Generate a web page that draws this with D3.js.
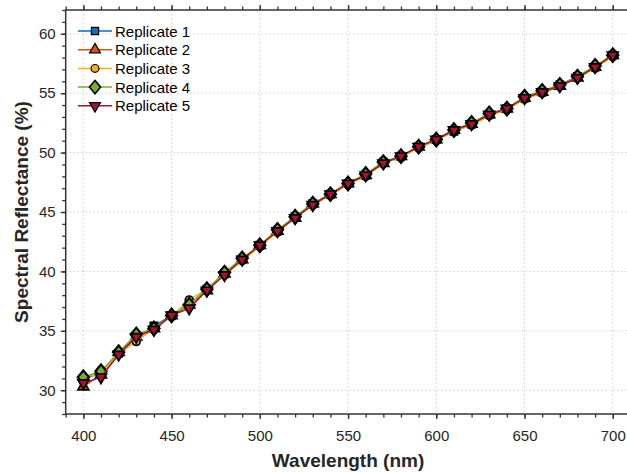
<!DOCTYPE html>
<html>
<head>
<meta charset="utf-8">
<script src="https://cdn.jsdelivr.net/npm/d3@7"></script>
<style>
  body { margin: 0; background: #fff; }
  svg { font-family: "Liberation Sans", Arial, Helvetica, sans-serif; }
</style>
</head>
<body>
<script>
// wavelength (nm) and the five replicate spectra (%)
var wavelengths = [400, 410, 420, 430, 440, 450, 460, 470, 480, 490, 500, 510, 520, 530, 540, 550,
                   560, 570, 580, 590, 600, 610, 620, 630, 640, 650, 660, 670, 680, 690, 700];
var rep1 = [31.0, 31.4, 33.1, 34.4, 35.4, 36.3, 37.2, 38.5, 39.8, 41.0, 42.2, 43.4, 44.6, 45.7, 46.5, 47.4,
            48.1, 49.2, 49.7, 50.5, 51.1, 51.8, 52.4, 53.2, 53.7, 54.6, 55.1, 55.7, 56.4, 57.2, 58.2];
var rep2 = [30.3, 31.3, 33.2, 34.5, 35.2, 36.3, 37.2, 38.4, 39.8, 41.0, 42.2, 43.4, 44.5, 45.7, 46.5, 47.4,
            48.1, 49.1, 49.7, 50.5, 51.1, 51.9, 52.4, 53.2, 53.7, 54.6, 55.1, 55.6, 56.3, 57.2, 58.2];
var rep3 = [31.1, 31.4, 33.1, 34.1, 35.2, 36.2, 37.6, 38.5, 39.7, 40.9, 42.1, 43.3, 44.5, 45.6, 46.4, 47.3,
            48.0, 49.1, 49.6, 50.4, 51.0, 51.8, 52.3, 53.1, 53.6, 54.5, 55.0, 55.6, 56.3, 57.1, 58.1];
var rep4 = [31.1, 31.6, 33.2, 34.7, 35.2, 36.3, 37.2, 38.5, 39.9, 41.1, 42.2, 43.5, 44.6, 45.7, 46.5, 47.4,
            48.2, 49.2, 49.7, 50.5, 51.1, 51.9, 52.5, 53.3, 53.7, 54.7, 55.2, 55.7, 56.4, 57.3, 58.2];
var rep5 = [30.6, 31.1, 33.0, 34.5, 35.1, 36.3, 36.9, 38.4, 39.7, 41.0, 42.2, 43.4, 44.5, 45.6, 46.5, 47.4,
            48.1, 49.1, 49.7, 50.5, 51.1, 51.9, 52.4, 53.2, 53.7, 54.6, 55.1, 55.6, 56.3, 57.2, 58.2];

var seriesNames = ["Replicate 1", "Replicate 2", "Replicate 3", "Replicate 4", "Replicate 5"];
var seriesValues = [rep1, rep2, rep3, rep4, rep5];
var xMajor = [400, 450, 500, 550, 600, 650, 700];
var yMajor = [30, 35, 40, 45, 50, 55, 60];

var colors = ["#0072BD", "#D95319", "#EDB120", "#77AC30", "#A2142F"];
var symbols = [d3.symbolSquare, d3.symbolTriangle, d3.symbolCircle, d3.symbolDiamond, d3.symbolTriangle];
var rotations = [0, 0, 0, 0, 180];
var widen = [1, 1, 1, 1.45, 1];
var axisColor = "#333333";

var width = 627, height = 472;
var mLeft = 65.7, mTop = 10, plotW = 564.7, plotH = 404;

var svg = d3.select("body").append("svg")
    .attr("width", width)
    .attr("height", height);

var x = d3.scaleLinear().domain([390, 710]).range([mLeft, mLeft + plotW]);
var y = d3.scaleLinear().domain([28, 62]).range([mTop + plotH, mTop]);

var xMinor = d3.range(390, 711, 10);
var yMinor = d3.range(28, 63, 1);

// grid
var grid = svg.append("g");
grid.selectAll("line.gx").data(xMajor).enter().append("line")
    .attr("x1", function(d){ return x(d); })
    .attr("x2", function(d){ return x(d); })
    .attr("y1", mTop).attr("y2", mTop + plotH);
grid.selectAll("line.gy").data(yMajor).enter().append("line")
    .attr("y1", function(d){ return y(d); })
    .attr("y2", function(d){ return y(d); })
    .attr("x1", mLeft).attr("x2", mLeft + plotW);
grid.selectAll("line")
    .attr("stroke", "#cfcfcf")
    .attr("stroke-width", 1)
    .attr("stroke-dasharray", "1.5,2.5");

function markerTransform(px, py, s){
    return "translate(" + px + "," + py + ") rotate(" + rotations[s] + ") scale(" + widen[s] + ",1)";
}

// series
var line = d3.line()
    .x(function(d, i){ return x(wavelengths[i]); })
    .y(function(d){ return y(d); });

seriesValues.forEach(function(vals, s){
    var g = svg.append("g");
    g.append("path")
        .datum(vals)
        .attr("d", line)
        .attr("fill", "none")
        .attr("stroke", colors[s])
        .attr("stroke-width", 1.5);
    g.selectAll("path.mk").data(vals).enter().append("path")
        .attr("class", "mk")
        .attr("d", d3.symbol().type(symbols[s]).size(s == 2 ? 48 : 52))
        .attr("transform", function(d, i){ return markerTransform(x(wavelengths[i]), y(d), s); })
        .attr("fill", colors[s])
        .attr("stroke", "#000")
        .attr("stroke-width", 1.7);
});

// axes
function styleAxis(g){
    g.selectAll(".domain").remove();
    g.selectAll(".tick line").attr("stroke", axisColor).attr("stroke-width", 1.3);
    g.selectAll(".tick text").attr("fill", "#262626").attr("font-size", 15);
}

var gx = svg.append("g").attr("transform", "translate(0," + (mTop + plotH) + ")")
    .call(d3.axisBottom(x).tickValues(xMajor).tickSize(5).tickSizeOuter(0).tickPadding(11).tickFormat(d3.format("d")));
styleAxis(gx);
var gxm = svg.append("g").attr("transform", "translate(0," + (mTop + plotH) + ")")
    .call(d3.axisBottom(x).tickValues(xMinor).tickSize(3.5).tickFormat(""));
styleAxis(gxm);

var gt = svg.append("g").attr("transform", "translate(0," + mTop + ")")
    .call(d3.axisTop(x).tickValues(xMajor).tickSize(5).tickFormat(""));
styleAxis(gt);
var gtm = svg.append("g").attr("transform", "translate(0," + mTop + ")")
    .call(d3.axisTop(x).tickValues(xMinor).tickSize(3.5).tickFormat(""));
styleAxis(gtm);

var gy = svg.append("g").attr("transform", "translate(" + mLeft + ",0)")
    .call(d3.axisLeft(y).tickValues(yMajor).tickSize(5).tickPadding(5).tickFormat(d3.format("d")));
styleAxis(gy);
var gym = svg.append("g").attr("transform", "translate(" + mLeft + ",0)")
    .call(d3.axisLeft(y).tickValues(yMinor).tickSize(3.5).tickFormat(""));
styleAxis(gym);

// frame
svg.append("rect")
    .attr("x", mLeft).attr("y", mTop)
    .attr("width", plotW).attr("height", plotH)
    .attr("fill", "none")
    .attr("stroke", axisColor)
    .attr("stroke-width", 1.5);

// axis labels
svg.append("text")
    .attr("x", mLeft + plotW / 2)
    .attr("y", 467)
    .attr("text-anchor", "middle")
    .attr("font-size", 19)
    .attr("font-weight", "bold")
    .attr("fill", "#262626")
    .text("Wavelength (nm)");

svg.append("text")
    .attr("transform", "translate(28," + (mTop + plotH / 2) + ") rotate(-90)")
    .attr("text-anchor", "middle")
    .attr("font-size", 19)
    .attr("font-weight", "bold")
    .attr("fill", "#262626")
    .text("Spectral Reflectance (%)");

// legend
var legend = svg.append("g");
seriesNames.forEach(function(name, s){
    var ly = 31 + s * 18.7;
    legend.append("line")
        .attr("x1", 78).attr("x2", 112)
        .attr("y1", ly).attr("y2", ly)
        .attr("stroke", colors[s])
        .attr("stroke-width", 1.5);
    legend.append("path")
        .attr("d", d3.symbol().type(symbols[s]).size(s == 2 ? 48 : 52))
        .attr("transform", markerTransform(95, ly, s))
        .attr("fill", colors[s])
        .attr("stroke", "#000")
        .attr("stroke-width", 1.2);
    legend.append("text")
        .attr("x", 115)
        .attr("y", ly + 5.5)
        .attr("font-size", 15)
        .attr("fill", "#000")
        .text(name);
});
</script>
</body>
</html>
